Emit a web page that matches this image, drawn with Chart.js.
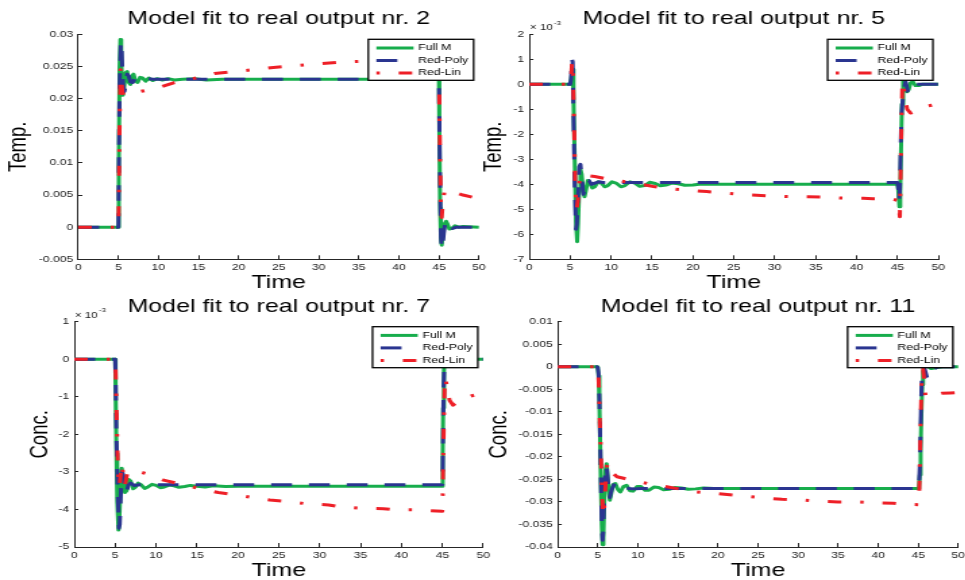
<!DOCTYPE html>
<html>
<head>
<meta charset="utf-8">
<title>Model fit to real outputs</title>
<script src="https://cdn.jsdelivr.net/npm/chart.js@4.4.1/dist/chart.umd.min.js"></script>
<style>
  html, body { margin: 0; padding: 0; background: #fff; overflow: hidden; }
  #page { position: relative; width: 965px; height: 580px; overflow: hidden; background: #fff; }
  /* the figure is drawn narrow and stretched sideways, like the exported plot */
  #page canvas { position: absolute; left: 0; top: 0; transform: scaleX(1.35); transform-origin: 0 0; }
</style>
</head>
<body>
<div id="page">
  <canvas id="chart-out2" width="730" height="580"></canvas>
  <canvas id="chart-out5" width="730" height="580"></canvas>
  <canvas id="chart-out7" width="730" height="580"></canvas>
  <canvas id="chart-out11" width="730" height="580"></canvas>
</div>
<script>
// ---- data: [time, value] ----
const timeRange = [0, 50, 5]

const seriesNames = ['Full M', 'Red-Poly', 'Red-Lin']

// output 2 (Temp.)
const out2Range = [-0.005, 0.03, 0.005]
const out2Full = [[0,0],[5,0],[5.05,0.01],[5.15,0.025],[5.25,0.0292],[5.35,0.027],[5.45,0.022],[5.55,0.0205],[5.7,0.0215],[5.9,0.024],[6.1,0.0242],[6.3,0.0225],[6.5,0.0222],[6.7,0.0235],[6.9,0.0238],[7.1,0.0228],[7.4,0.0225],[7.7,0.0233],[8,0.0232],[8.4,0.0227],[8.8,0.0232],[9.3,0.0228],[9.8,0.0231],[10.5,0.0229],[11.2,0.0231],[12,0.0229],[13,0.023],[14.5,0.0231],[16,0.0229],[18,0.023],[45,0.023],[45.05,0.015],[45.15,0.003],[45.25,-0.002],[45.35,-0.0028],[45.5,-0.001],[45.7,0.0005],[45.9,0.0009],[46.1,0.0004],[46.3,-0.0003],[46.6,-0.0002],[47,0.0002],[47.5,0],[48,0.0001],[50,0]]
const out2Poly = [[0,0],[5,0],[5.05,0.008],[5.15,0.022],[5.3,0.0288],[5.4,0.0283],[5.5,0.024],[5.6,0.022],[5.75,0.0211],[5.9,0.022],[6.1,0.0238],[6.3,0.0235],[6.5,0.0226],[6.8,0.0225],[7.1,0.0232],[7.5,0.0231],[8,0.0228],[8.6,0.0231],[9.3,0.023],[45,0.023],[45.05,0.017],[45.15,0.006],[45.25,-0.0015],[45.35,-0.0033],[45.45,-0.003],[45.6,-0.001],[45.8,0.0009],[46,0.0008],[46.3,0],[46.7,-0.0002],[47.2,0],[50,0]]
const out2Lin = [[0,0],[5,0],[5.05,0.004],[5.15,0.016],[5.25,0.0245],[5.35,0.0235],[5.5,0.021],[5.7,0.0205],[6,0.0206],[7.7,0.0211],[9.8,0.0216],[12,0.0225],[14,0.023],[17,0.0239],[20.4,0.0243],[24,0.0248],[27,0.0251],[29,0.0253],[33,0.0257],[36,0.0258],[40,0.026],[45,0.0261],[45.05,0.02],[45.15,0.01],[45.25,0.003],[45.35,0.0015],[45.5,0.004],[45.7,0.0057],[46,0.0058],[46.5,0.0055],[47,0.0054],[48,0.005],[49,0.0047],[50,0.0044]]

// output 5 (Temp., x 10^-3)
const out5Range = [-7, 2, 1]
const out5Full = [[0,0],[5,0],[5.15,0.3],[5.3,0.6],[5.4,-0.5],[5.55,-3],[5.7,-5.5],[5.85,-6.3],[5.95,-5.6],[6.1,-4.2],[6.25,-3.4],[6.4,-3.6],[6.6,-4.3],[6.75,-4.5],[6.95,-4.2],[7.15,-3.85],[7.4,-3.95],[7.7,-4.15],[8,-4.1],[8.4,-3.9],[8.8,-3.95],[9.2,-4.1],[9.6,-4.05],[10.1,-3.9],[10.6,-3.95],[11.2,-4.1],[11.7,-4.05],[12.3,-3.9],[12.9,-3.95],[13.5,-4.08],[14.1,-4.05],[14.7,-3.92],[15.4,-3.97],[16,-4.06],[16.7,-4.03],[17.4,-3.95],[18.2,-3.98],[19,-4.04],[20,-4.03],[21,-3.99],[22.5,-4],[45,-4],[45.1,-4.2],[45.25,-4.9],[45.35,-4.3],[45.45,-2.5],[45.55,-0.8],[45.7,0.2],[45.85,0.3],[46,0],[46.2,-0.3],[46.4,-0.2],[46.6,0.05],[46.9,0.1],[47.2,-0.05],[47.6,-0.05],[48,0],[50,0]]
const out5Poly = [[0,0],[5,0],[5.1,0.2],[5.2,1],[5.3,0.9],[5.4,-1.2],[5.55,-4],[5.7,-5.8],[5.8,-5.6],[5.95,-4.5],[6.1,-3.3],[6.25,-3.2],[6.45,-3.9],[6.6,-4.4],[6.8,-4.2],[7,-3.85],[7.3,-3.85],[7.6,-4],[8,-3.95],[8.5,-3.9],[9,-3.93],[45,-3.93],[45.1,-4.1],[45.2,-4.65],[45.3,-4.2],[45.4,-2.5],[45.5,-1.2],[45.65,-0.6],[45.8,-0.2],[46,0.1],[46.3,-0.3],[46.5,-0.35],[46.8,-0.1],[47.2,0],[50,0]]
const out5Lin = [[0,0],[5,0],[5.1,0.1],[5.2,0.8],[5.3,0.9],[5.4,-0.5],[5.5,-2],[5.6,-3.8],[5.7,-4.6],[5.8,-5],[5.95,-4.6],[6.1,-3.9],[6.3,-3.6],[6.6,-3.63],[8,-3.69],[10.3,-3.83],[12.5,-3.93],[15.2,-4.09],[16.6,-4.16],[19,-4.23],[21.7,-4.29],[23.1,-4.33],[25.6,-4.39],[27.2,-4.43],[29.8,-4.47],[31.5,-4.49],[34.1,-4.5],[36.6,-4.52],[38.2,-4.55],[40.8,-4.56],[42,-4.58],[44.5,-4.6],[45.1,-4.65],[45.3,-5.3],[45.4,-3.5],[45.5,-1.5],[45.6,0],[45.7,0.1],[45.9,-0.5],[46.2,-1],[46.6,-1.15],[47,-1.1],[48.2,-0.9],[49,-0.85],[50,-0.79]]

// output 7 (Conc., x 10^-3)
const out7Range = [-5, 1, 1]
const out7Full = [[0,0],[5,0],[5.05,-0.8],[5.15,-2.5],[5.25,-3.8],[5.4,-4.55],[5.5,-4.3],[5.65,-3.3],[5.8,-2.9],[5.95,-3.2],[6.2,-3.55],[6.4,-3.5],[6.65,-3.2],[6.9,-3.25],[7.2,-3.45],[7.5,-3.4],[7.8,-3.3],[8.2,-3.35],[8.6,-3.44],[9,-3.4],[9.5,-3.33],[10,-3.36],[10.5,-3.42],[11,-3.4],[11.6,-3.35],[12.2,-3.37],[12.8,-3.41],[13.5,-3.39],[14.2,-3.36],[15,-3.38],[16,-3.4],[17,-3.37],[18.5,-3.39],[20,-3.38],[45,-3.38],[45.05,-2.5],[45.1,-1.3],[45.2,-0.3],[45.3,0],[50,0]]
const out7Poly = [[0,0],[5,0],[5.05,-0.5],[5.15,-2],[5.3,-3.5],[5.45,-4.5],[5.55,-4.4],[5.7,-3.5],[5.85,-3],[6,-3.1],[6.2,-3.5],[6.4,-3.55],[6.6,-3.35],[6.9,-3.3],[7.3,-3.36],[8,-3.34],[45,-3.34],[45.05,-2.9],[45.1,-1.8],[45.15,-0.8],[45.25,-0.1],[45.35,0],[50,0]]
const out7Lin = [[0,0],[5,0],[5.05,-0.3],[5.15,-1.2],[5.25,-2.2],[5.35,-3],[5.5,-3.4],[5.65,-3.1],[5.85,-2.8],[6.05,-3.3],[6.2,-3.35],[6.5,-3],[7.2,-2.95],[9.5,-3.09],[10.9,-3.22],[13.5,-3.35],[16,-3.48],[17.6,-3.55],[20.1,-3.62],[22.5,-3.71],[23.9,-3.75],[26.4,-3.79],[28.4,-3.85],[31.1,-3.88],[32.5,-3.93],[35.1,-3.97],[37.8,-3.98],[39.2,-4.01],[41.9,-4.01],[43.1,-4.03],[45,-4.05],[45.05,-3.6],[45.1,-2.7],[45.2,-1.5],[45.3,-0.55],[45.4,-0.5],[45.6,-0.8],[45.9,-1.1],[46.3,-1.22],[46.8,-1.15],[47.5,-1.05],[48.5,-0.98],[50,-0.9]]

// output 11 (Conc.)
const out11Range = [-0.04, 0.01, 0.005]
const out11Full = [[0,0],[4.9,0],[5,-0.0003],[5.1,-0.002],[5.2,-0.008],[5.3,-0.017],[5.4,-0.027],[5.5,-0.035],[5.6,-0.0395],[5.7,-0.038],[5.8,-0.031],[5.95,-0.023],[6.1,-0.0215],[6.3,-0.026],[6.5,-0.0296],[6.7,-0.028],[6.9,-0.0262],[7.2,-0.0259],[7.5,-0.0272],[7.8,-0.0278],[8.2,-0.0266],[8.6,-0.0263],[9,-0.0275],[9.4,-0.0276],[9.9,-0.0266],[10.4,-0.0266],[10.9,-0.0274],[11.4,-0.0274],[12,-0.0267],[12.6,-0.0268],[13.2,-0.0273],[13.9,-0.0272],[14.6,-0.0268],[15.4,-0.0269],[16.3,-0.0272],[17.2,-0.0271],[18.2,-0.0269],[19.5,-0.027],[45,-0.027],[45.1,-0.0265],[45.2,-0.024],[45.3,-0.018],[45.4,-0.01],[45.5,-0.004],[45.6,-0.001],[45.8,0],[46.2,0.0001],[46.6,-0.0004],[47,-0.0003],[48,0],[50,0]]
const out11Poly = [[0,0],[4.9,0],[5,-0.0002],[5.1,-0.0015],[5.2,-0.007],[5.3,-0.016],[5.4,-0.026],[5.5,-0.035],[5.6,-0.0385],[5.7,-0.036],[5.8,-0.029],[5.95,-0.0225],[6.1,-0.022],[6.3,-0.026],[6.5,-0.029],[6.7,-0.0275],[7,-0.0262],[7.4,-0.0268],[7.8,-0.0275],[8.3,-0.0268],[8.9,-0.027],[9.5,-0.0271],[10.5,-0.027],[45,-0.027],[45.1,-0.026],[45.2,-0.022],[45.3,-0.013],[45.4,-0.005],[45.5,-0.0005],[45.6,0.0003],[45.8,-0.0005],[46.1,-0.0024],[46.3,-0.0026],[46.6,-0.0015],[47,-0.0004],[47.5,0],[50,0]]
const out11Lin = [[0,0],[5,0],[5.05,-0.0005],[5.15,-0.005],[5.25,-0.012],[5.35,-0.017],[5.45,-0.023],[5.55,-0.029],[5.65,-0.032],[5.75,-0.033],[5.85,-0.03],[6,-0.025],[6.15,-0.022],[6.3,-0.0214],[6.5,-0.022],[6.8,-0.0235],[7.4,-0.0244],[9.6,-0.0253],[11.2,-0.0259],[13.2,-0.0265],[15.4,-0.0272],[16.8,-0.0277],[19.6,-0.0281],[22.1,-0.0285],[23.8,-0.0288],[26.3,-0.0292],[28,-0.0294],[30.7,-0.0296],[32.2,-0.0298],[35,-0.03],[37.4,-0.03],[39.4,-0.0302],[41.9,-0.0303],[43,-0.0305],[45,-0.0306],[45.1,-0.03],[45.2,-0.022],[45.3,-0.012],[45.4,-0.005],[45.5,-0.001],[45.6,-0.0005],[45.75,-0.003],[45.9,-0.0065],[46.2,-0.0068],[46.6,-0.0064],[47.2,-0.0062],[47.9,-0.0059],[49,-0.0058],[50,-0.0057]]

// ---- look ----
const STRETCH    = 1.35
const CANVAS_W   = 730
const CANVAS_H   = 580
const FONT       = "'Liberation Sans', Arial, Helvetica, sans-serif"
const INK        = '#1c1c1c'
const TITLE_SIZE = 18.5
const TITLE_LH   = TITLE_SIZE * 1.2
const AXIS_SIZE  = 18.5
const AXIS_LH    = AXIS_SIZE * 0.8

const seriesColors = ['#17ad4c', '#2a3590', '#ee1f27']
const seriesDash   = [[], [15.5, 12.5], [10, 14, 2.5, 14]]
const legendDashOffset = [0, 0, 24]

// panel placement on the page (page pixels)
const panels = [
    { canvas: 'chart-out2', title: 'Model fit to real output nr. 2', yLabel: 'Temp.',
      series: [out2Full, out2Poly, out2Lin], range: out2Range, exponent: false,
      box: [78.3, 479, 34.3, 259.3], titleY: 19.3, yLabelX: 19, timeLabelY: 283 },
    { canvas: 'chart-out5', title: 'Model fit to real output nr. 5', yLabel: 'Temp.',
      series: [out5Full, out5Poly, out5Lin], range: out5Range, exponent: true,
      box: [529.3, 938.3, 34.3, 259.3], titleY: 19.3, yLabelX: 494, timeLabelY: 283 },
    { canvas: 'chart-out7', title: 'Model fit to real output nr. 7', yLabel: 'Conc.',
      series: [out7Full, out7Poly, out7Lin], range: out7Range, exponent: true,
      box: [74.3, 483.2, 321.7, 547], titleY: 306.7, yLabelX: 39.7, timeLabelY: 570.7 },
    { canvas: 'chart-out11', title: 'Model fit to real output nr. 11', yLabel: 'Conc.',
      series: [out11Full, out11Poly, out11Lin], range: out11Range, exponent: false,
      box: [557.7, 958.3, 321.7, 547], titleY: 306.7, yLabelX: 499.3, timeLabelY: 570.7 },
]

// legend frame in the top right corner + the "x 10^-3" multiplier
const panelExtras = {
    id: 'panelExtras',
    afterDatasetsDraw(chart) {
        const { ctx, chartArea } = chart
        const w = 78, h = 41
        const x = chartArea.right - 4 - w
        const y = chartArea.top + 5

        ctx.save()
        ctx.fillStyle = '#fff'
        ctx.fillRect(x, y, w, h)
        ctx.lineWidth = 1.3
        ctx.strokeStyle = '#000'
        ctx.strokeRect(x, y, w, h)

        chart.data.datasets.forEach((ds, i) => {
            const cy = y + 8.7 + i * 12.5
            ctx.beginPath()
            ctx.setLineDash(ds.borderDash)
            ctx.lineDashOffset = legendDashOffset[i]
            ctx.lineCap = 'butt'
            ctx.strokeStyle = ds.borderColor
            ctx.lineWidth = ds.borderWidth
            ctx.moveTo(x + 6, cy)
            ctx.lineTo(x + 33.5, cy)
            ctx.stroke()

            ctx.setLineDash([])
            ctx.fillStyle = '#000'
            ctx.font = `9px ${FONT}`
            ctx.textBaseline = 'middle'
            ctx.textAlign = 'left'
            ctx.fillText(ds.label, x + 37, cy)
        })
        ctx.restore()
    },
    afterDraw(chart, args, opts) {
        if (!opts.exponent) return
        const { ctx, chartArea } = chart
        ctx.save()
        ctx.fillStyle = INK
        ctx.textBaseline = 'alphabetic'
        ctx.textAlign = 'left'
        ctx.font = `8.5px ${FONT}`
        const base = chartArea.top - 4
        ctx.fillText('\u00d7 10', chartArea.left + 0.5, base)
        const wBase = ctx.measureText('\u00d7 10').width
        ctx.font = `6px ${FONT}`
        ctx.fillText('-3', chartArea.left + 1.5 + wBase, base - 5.5)
        ctx.restore()
    }
}

function tickText(v) {
    return String(+v.toFixed(4))
}

function makeChart(p) {
    const [l, r, t, b] = p.box
    const left  = l / STRETCH
    const right = r / STRETCH
    const yAxisWidth  = left - p.yLabelX / STRETCH + AXIS_LH / 2 + 2
    const xAxisHeight = p.timeLabelY - b + AXIS_LH / 2
    const titleTop    = p.titleY - TITLE_LH / 2 - 2
    const [yMin, yMax, yStep] = p.range

    const datasets = p.series.map((pts, i) => ({
        label: seriesNames[i],
        data: pts.map(([x, y]) => ({ x, y })),
        borderColor: seriesColors[i],
        borderDash: seriesDash[i],
        borderWidth: 3,
        borderCapStyle: 'butt',
        borderJoinStyle: 'round',
        pointRadius: 0,
        tension: 0,
        fill: false,
        order: 3 - i
    }))

    const axisGrid = { drawOnChartArea: false, drawTicks: true, color: '#262626', lineWidth: 1 }
    const tickFont = { family: FONT, size: 9 }
    const axisFont = { family: FONT, size: AXIS_SIZE, lineHeight: 0.8 }

    return new Chart(document.getElementById(p.canvas), {
        type: 'line',
        data: { datasets },
        options: {
            responsive: false,
            animation: false,
            events: [],
            layout: {
                padding: {
                    left: left - yAxisWidth,
                    right: CANVAS_W - right,
                    top: titleTop,
                    bottom: CANVAS_H - b - xAxisHeight
                }
            },
            scales: {
                x: {
                    type: 'linear',
                    min: timeRange[0],
                    max: timeRange[1],
                    grid: { ...axisGrid, tickLength: -4 },
                    border: { display: true, color: '#262626', width: 1 },
                    ticks: { stepSize: timeRange[2], autoSkip: false, maxRotation: 0, padding: 7.1, color: INK, font: tickFont },
                    title: { display: true, text: 'Time', color: '#000', font: axisFont, padding: { top: 0, bottom: 0 } },
                    afterFit: scale => { scale.height = xAxisHeight }
                },
                y: {
                    type: 'linear',
                    min: yMin,
                    max: yMax,
                    grid: { ...axisGrid, tickLength: -3 },
                    border: { display: true, color: '#262626', width: 1 },
                    ticks: { stepSize: yStep, autoSkip: false, padding: 6.7, color: INK, font: tickFont, callback: tickText },
                    title: { display: true, text: p.yLabel, color: '#000', font: axisFont, padding: { top: 2, bottom: 0 } },
                    afterFit: scale => { scale.width = yAxisWidth }
                }
            },
            plugins: {
                legend: { display: false },
                tooltip: { enabled: false },
                title: {
                    display: true,
                    fullSize: false,
                    text: p.title,
                    color: '#000',
                    font: { family: FONT, size: TITLE_SIZE, weight: 'normal', lineHeight: 1.2 },
                    padding: { top: 2, bottom: t - p.titleY - TITLE_LH / 2 }
                },
                panelExtras: { exponent: p.exponent }
            }
        },
        plugins: [panelExtras]
    })
}

panels.forEach(makeChart)
</script>
</body>
</html>
